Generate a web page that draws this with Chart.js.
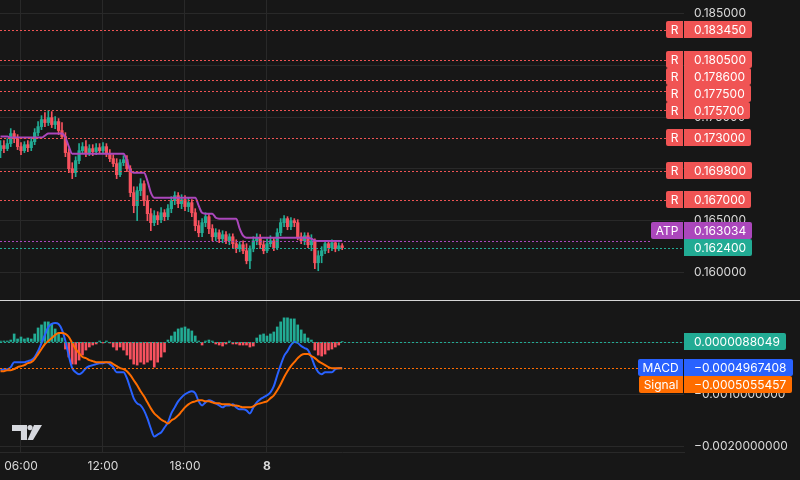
<!DOCTYPE html>
<html>
<head>
<meta charset="utf-8">
<script src="https://cdn.jsdelivr.net/npm/chart.js@4.4.1/dist/chart.umd.min.js"></script>
<style>
  html, body { margin: 0; padding: 0; background: #171717; }
  #wrap { position: relative; width: 800px; height: 480px; overflow: hidden; background: #171717; }
  #priceChart { position: absolute; left: 0; top: 0; }
  #sep { position: absolute; left: 0; top: 300px; width: 800px; height: 1px; background: #d6d6d6; }
  #macdChart { position: absolute; left: 0; top: 301px; }
</style>
</head>
<body>
<div id="wrap">
  <canvas id="priceChart" width="800" height="300"></canvas>
  <div id="sep"></div>
  <canvas id="macdChart" width="800" height="179"></canvas>
</div>
<script>
// 15 minute bars, first bar 04:30, last bar 05:30 next day
const opens = [
  0.17176,0.17225,0.17196,0.17244,0.17341,0.17292,0.17215,0.17176,0.17234,0.17205,
  0.17263,0.17350,0.17408,0.17476,0.17447,0.17495,0.17428,0.17457,0.17370,0.17312,
  0.17157,0.17002,0.16964,0.17080,0.17176,0.17215,0.17157,0.17196,0.17167,0.17205,
  0.17176,0.17215,0.17147,0.17099,0.17051,0.16944,0.17060,0.17089,0.17002,0.16771,
  0.16645,0.16790,0.16857,0.16693,0.16568,0.16481,0.16549,0.16510,0.16577,0.16539,
  0.16616,0.16693,0.16742,0.16664,0.16703,0.16636,0.16674,0.16577,0.16452,0.16384,
  0.16481,0.16539,0.16423,0.16345,0.16384,0.16326,0.16365,0.16306,0.16345,0.16278,
  0.16229,0.16268,0.16210,0.16113,0.16229,0.16306,0.16336,0.16268,0.16210,0.16278,
  0.16306,0.16239,0.16384,0.16481,0.16520,0.16442,0.16500,0.16481,0.16345,0.16306,
  0.16355,0.16268,0.16306,0.16094,0.16162,0.16210,0.16278,0.16239,0.16287,0.16229,
  0.16258
];
const highs = [
  0.17273,0.17273,0.17292,0.17389,0.17370,0.17331,0.17254,0.17263,0.17273,0.17302,
  0.17389,0.17457,0.17514,0.17543,0.17563,0.17553,0.17505,0.17486,0.17447,0.17350,
  0.17196,0.17060,0.17118,0.17244,0.17254,0.17273,0.17234,0.17234,0.17244,0.17244,
  0.17254,0.17244,0.17186,0.17138,0.17099,0.17089,0.17128,0.17128,0.17031,0.16828,
  0.16828,0.16906,0.16886,0.16742,0.16616,0.16597,0.16587,0.16626,0.16607,0.16655,
  0.16732,0.16780,0.16771,0.16751,0.16742,0.16722,0.16703,0.16616,0.16500,0.16520,
  0.16577,0.16568,0.16462,0.16423,0.16413,0.16403,0.16394,0.16374,0.16374,0.16316,
  0.16297,0.16306,0.16278,0.16258,0.16345,0.16374,0.16365,0.16306,0.16326,0.16355,
  0.16336,0.16423,0.16520,0.16549,0.16539,0.16529,0.16520,0.16510,0.16384,0.16384,
  0.16384,0.16365,0.16326,0.16210,0.16249,0.16306,0.16306,0.16316,0.16306,0.16287,
  0.16278
];
const lows = [
  0.17109,0.17157,0.17176,0.17215,0.17254,0.17186,0.17138,0.17157,0.17167,0.17176,
  0.17234,0.17321,0.17379,0.17408,0.17418,0.17399,0.17389,0.17331,0.17292,0.17118,
  0.16964,0.16906,0.16925,0.17051,0.17147,0.17118,0.17128,0.17128,0.17138,0.17147,
  0.17147,0.17118,0.17070,0.17022,0.16906,0.16925,0.17031,0.16973,0.16732,0.16577,
  0.16500,0.16742,0.16645,0.16500,0.16403,0.16452,0.16462,0.16481,0.16500,0.16510,
  0.16577,0.16655,0.16626,0.16616,0.16597,0.16587,0.16539,0.16403,0.16345,0.16345,
  0.16442,0.16374,0.16306,0.16306,0.16287,0.16287,0.16278,0.16268,0.16239,0.16191,
  0.16200,0.16181,0.16084,0.16036,0.16200,0.16268,0.16229,0.16181,0.16191,0.16249,
  0.16210,0.16220,0.16355,0.16442,0.16413,0.16413,0.16442,0.16316,0.16278,0.16268,
  0.16239,0.16210,0.16036,0.16017,0.16094,0.16181,0.16191,0.16210,0.16200,0.16210,
  0.16220
];
const closes = [
  0.17225,0.17196,0.17244,0.17341,0.17292,0.17215,0.17176,0.17234,0.17205,0.17263,
  0.17350,0.17408,0.17476,0.17447,0.17495,0.17428,0.17457,0.17370,0.17312,0.17157,
  0.17002,0.16964,0.17080,0.17176,0.17215,0.17157,0.17196,0.17167,0.17205,0.17176,
  0.17215,0.17147,0.17099,0.17051,0.16944,0.17060,0.17089,0.17002,0.16771,0.16645,
  0.16790,0.16857,0.16693,0.16568,0.16481,0.16549,0.16510,0.16577,0.16539,0.16616,
  0.16693,0.16742,0.16664,0.16703,0.16636,0.16674,0.16577,0.16452,0.16384,0.16481,
  0.16539,0.16423,0.16345,0.16384,0.16326,0.16365,0.16306,0.16345,0.16278,0.16229,
  0.16268,0.16210,0.16113,0.16229,0.16306,0.16336,0.16268,0.16210,0.16278,0.16306,
  0.16239,0.16384,0.16481,0.16520,0.16442,0.16500,0.16481,0.16345,0.16306,0.16355,
  0.16268,0.16306,0.16094,0.16162,0.16210,0.16278,0.16239,0.16287,0.16229,0.16258,
  0.16240
];
const atp = [
  0.17312,0.17312,0.17312,0.17302,0.17302,0.17302,0.17302,0.17302,0.17302,0.17302,
  0.17302,0.17302,0.17302,0.17321,0.17341,0.17341,0.17341,0.17341,0.17341,0.17302,
  0.17215,0.17147,0.17147,0.17147,0.17147,0.17147,0.17147,0.17147,0.17147,0.17147,
  0.17147,0.17147,0.17147,0.17147,0.17147,0.17147,0.17147,0.17080,0.16983,0.16964,
  0.16964,0.16964,0.16964,0.16886,0.16771,0.16722,0.16722,0.16722,0.16722,0.16722,
  0.16722,0.16722,0.16722,0.16722,0.16722,0.16722,0.16722,0.16722,0.16645,0.16577,
  0.16568,0.16568,0.16568,0.16529,0.16520,0.16520,0.16520,0.16520,0.16520,0.16520,
  0.16423,0.16355,0.16336,0.16336,0.16336,0.16336,0.16336,0.16336,0.16336,0.16336,
  0.16336,0.16336,0.16336,0.16336,0.16336,0.16336,0.16336,0.16336,0.16336,0.16336,
  0.16336,0.16326,0.16310,0.163034,0.163034,0.163034,0.163034,0.163034,0.163034,0.163034,
  0.163034
];
const macd = [
  -0.000538,-0.000519,-0.000519,-0.000481,-0.000385,-0.000385,-0.000385,-0.000385,-0.000365,-0.000346,
  -0.000288,-0.000173,-0.000019,0.000135,0.000288,0.000346,0.000365,0.000346,0.000231,0.000019,
  -0.000269,-0.0005,-0.000577,-0.000615,-0.000577,-0.0005,-0.000462,-0.000442,-0.000423,-0.000404,
  -0.000404,-0.000385,-0.000423,-0.000481,-0.000577,-0.000577,-0.000577,-0.000692,-0.000885,-0.001077,
  -0.001173,-0.001212,-0.001308,-0.001462,-0.001654,-0.001808,-0.001769,-0.001731,-0.001635,-0.001538,
  -0.001365,-0.00125,-0.001135,-0.001058,-0.001,-0.000962,-0.000942,-0.000981,-0.001135,-0.001212,
  -0.001154,-0.001115,-0.001135,-0.001173,-0.001212,-0.00125,-0.001212,-0.001212,-0.001192,-0.00125,
  -0.001288,-0.001288,-0.001308,-0.001365,-0.00125,-0.001154,-0.001096,-0.001058,-0.001019,-0.000962,
  -0.000846,-0.000635,-0.000442,-0.000269,-0.000173,-0.000058,0,-0.000019,-0.000077,-0.000115,
  -0.000154,-0.000288,-0.000462,-0.000577,-0.000615,-0.000577,-0.000577,-0.000577,-0.000519,-0.0005,
  -0.0004967408
];
const signal = [
  -0.000558,-0.000558,-0.000538,-0.000538,-0.000519,-0.000481,-0.000462,-0.000442,-0.000404,-0.000385,
  -0.000327,-0.000231,-0.000135,-0.000038,0.000019,0.000077,0.000135,0.000173,0.000173,0.000154,
  0.000096,-0.000019,-0.000135,-0.000212,-0.000288,-0.000308,-0.000346,-0.000365,-0.000385,-0.000385,
  -0.000385,-0.000385,-0.000385,-0.000423,-0.000462,-0.0005,-0.000519,-0.000558,-0.000635,-0.000731,
  -0.000827,-0.000942,-0.001038,-0.001154,-0.001269,-0.001365,-0.001423,-0.001481,-0.001519,-0.001558,
  -0.0015,-0.001462,-0.001404,-0.001327,-0.00125,-0.001192,-0.001154,-0.001135,-0.001115,-0.001115,
  -0.001135,-0.001135,-0.001154,-0.001173,-0.001173,-0.001192,-0.001192,-0.001192,-0.001212,-0.001212,
  -0.001231,-0.00125,-0.00125,-0.00125,-0.001231,-0.001192,-0.001173,-0.001154,-0.001135,-0.001077,
  -0.001019,-0.000923,-0.000808,-0.000673,-0.000558,-0.000462,-0.000385,-0.000308,-0.00025,-0.000231,
  -0.000231,-0.000269,-0.000308,-0.000365,-0.000404,-0.000442,-0.000481,-0.0005,-0.0005,-0.0005,
  -0.0005055457
];
const hist = [
  0.000019,0.000019,0.000019,0.000038,0.000154,0.000058,0.000096,0.000058,0.000077,0.000058,
  0.000154,0.000269,0.000327,0.000385,0.000385,0.000346,0.00025,0.000173,0.000077,-0.000135,
  -0.000288,-0.000423,-0.000423,-0.000346,-0.00025,-0.000154,-0.000096,-0.000058,-0.000038,0.000019,
  -0.000019,0.000019,-0.000019,-0.000096,-0.000154,-0.000096,-0.000154,-0.00025,-0.000327,-0.000423,
  -0.000442,-0.000385,-0.000423,-0.000385,-0.000346,-0.000481,-0.000385,-0.000288,-0.000192,0.000038,
  0.000115,0.000192,0.00025,0.000269,0.000288,0.00025,0.000212,0.000115,0.000019,-0.000058,
  0.000019,0.000038,0.000019,-0.000038,-0.000058,-0.000077,-0.000038,0.000019,-0.000038,-0.000038,
  -0.000058,-0.000058,-0.000058,-0.000096,-0.000077,0.000077,0.000135,0.000154,0.000115,0.000154,
  0.000192,0.000288,0.000385,0.000462,0.000462,0.000442,0.000442,0.000327,0.000231,0.000154,
  0.000077,0.000038,-0.000154,-0.00025,-0.000269,-0.000231,-0.000154,-0.000135,-0.000096,-0.000058,
  0.0000088049
];

const resistanceLevels = [0.18345, 0.1805, 0.1786, 0.1775, 0.1757, 0.173, 0.1698, 0.167];
const priceTicks = [0.16, 0.165, 0.17, 0.175, 0.18, 0.185];
const macdTicks = [0, -0.001, -0.002];
const timeTickIdx = [6, 30, 54, 78];
const timeTickLabels = ['06:00', '12:00', '18:00', '8'];

const FONT_FAMILY = 'Inter, "Noto Sans", "DejaVu Sans", sans-serif';
const TEXT = '#d9d9d9';
const GRID = '#292929';
const UP = '#22ab94';
const DOWN = '#f7525f';
const RES = '#f05454';
const ATP_COLOR = '#ab47bc';
const MACD_COLOR = '#2962ff';
const SIGNAL_COLOR = '#ff6d00';
const LABEL_H = 17;

const xMin = -0.146, xMax = 200.05;

function fitRightAxis(scale) {
    scale.width = 116;
    scale.paddingTop = 0;
    scale.paddingBottom = 0;
}
function fitTimeAxis(h) {
    return function (scale) {
        scale.height = h;
        scale.paddingLeft = 0;
        scale.paddingRight = 0;
    };
}

function xAxis(showLabels) {
    return {
        type: 'linear', min: xMin, max: xMax, bounds: 'data', offset: false,
        afterBuildTicks: s => { s.ticks = timeTickIdx.map(v => ({ value: v })); },
        afterFit: fitTimeAxis(showLabels ? 28 : 0),
        grid: { color: GRID, offset: false, drawTicks: false },
        border: { display: showLabels, color: GRID },
        ticks: {
            display: showLabels, autoSkip: false, maxRotation: 0, padding: 7, color: TEXT,
            font: ctx => ({ family: FONT_FAMILY, size: 12, weight: ctx.tick && ctx.tick.value === 78 ? 'bold' : 'normal' }),
            callback: v => timeTickLabels[timeTickIdx.indexOf(v)] || ''
        }
    };
}

// spread overlapping axis labels apart; pinned labels stay on their line
function placeLabels(items, h) {
    items.sort((a, b) => a.y - b.y);
    const clusters = items.map(it => [it]);
    const place = c => {
        const p = c.findIndex(it => it.pin);
        const base = p >= 0 ? c[p].y - p * h
            : c.reduce((s, it) => s + it.y, 0) / c.length - (c.length - 1) * h / 2;
        c.forEach((it, i) => { it.ly = base + i * h; });
    };
    clusters.forEach(place);
    let merged = true;
    while (merged) {
        merged = false;
        for (let i = 0; i < clusters.length - 1; i++) {
            const a = clusters[i], b = clusters[i + 1];
            if (b[0].ly - a[a.length - 1].ly < h) {
                clusters.splice(i, 2, a.concat(b));
                place(clusters[i]);
                merged = true;
                break;
            }
        }
    }
    return items;
}

function box(ctx, x, y, w, h, r) {
    ctx.beginPath();
    if (ctx.roundRect) ctx.roundRect(x, y, w, h, r); else ctx.rect(x, y, w, h);
    ctx.fill();
}

function tagWidth(ctx, it) {
    return it.tag ? Math.round(ctx.measureText(it.tag).width + 10) : 0;
}

function drawPriceLines(chart, items) {
    const ctx = chart.ctx, area = chart.chartArea;
    ctx.save();
    ctx.font = '12px ' + FONT_FAMILY;
    ctx.lineWidth = 1;
    ctx.setLineDash([2, 2]);
    items.forEach(it => {
        const y = Math.round(it.y) + 0.5;
        ctx.strokeStyle = it.lineColor || it.color;
        ctx.beginPath();
        ctx.moveTo(area.left, y);
        ctx.lineTo(area.right - tagWidth(ctx, it), y);
        ctx.stroke();
    });
    ctx.setLineDash([]);
    placeLabels(items, LABEL_H);
    ctx.textBaseline = 'middle';
    items.forEach(it => {
        const x0 = area.right;
        const top = Math.round(it.ly - LABEL_H / 2);
        const vw = Math.round(ctx.measureText(it.text).width + 16);
        ctx.fillStyle = it.color;
        box(ctx, x0, top, vw, LABEL_H, [0, 2, 2, 0]);
        if (it.tag) {
            const tw = tagWidth(ctx, it);
            box(ctx, x0 - tw, top, tw - 1, LABEL_H, [2, 0, 0, 2]);
            ctx.fillStyle = '#ffffff';
            ctx.textAlign = 'center';
            ctx.fillText(it.tag, x0 - tw / 2 - 0.5, top + LABEL_H / 2 + 0.5);
        }
        ctx.fillStyle = '#ffffff';
        ctx.textAlign = 'left';
        ctx.fillText(it.text, x0 + 10, top + LABEL_H / 2 + 0.5);
    });
    ctx.restore();
}

const idx = opens.map((_, i) => i);
const candleColors = closes.map((c, i) => c >= opens[i] ? UP : DOWN);
const histColors = hist.map(v => v >= 0 ? UP : DOWN);

const priceLabelsPlugin = {
    id: 'priceLabels',
    afterDraw(chart) {
        const ys = chart.scales.y;
        const lastClose = closes[closes.length - 1];
        const atpLast = atp[atp.length - 1];
        const items = resistanceLevels.map(v => ({ y: ys.getPixelForValue(v), tag: 'R', text: v.toFixed(6), color: RES }));
        items.push({ y: ys.getPixelForValue(atpLast), tag: 'ATP', text: atpLast.toFixed(6), color: ATP_COLOR });
        items.push({ y: ys.getPixelForValue(lastClose), tag: '', text: lastClose.toFixed(6),
            color: candleColors[candleColors.length - 1] === UP ? UP : UP, pin: true });
        drawPriceLines(chart, items);
    }
};

function fmtMacd(v) {
    return (v < 0 ? '\u2212' : '') + Math.abs(v).toFixed(10);
}

const macdLabelsPlugin = {
    id: 'macdLabels',
    afterDraw(chart) {
        const ys = chart.scales.y;
        const h = hist[hist.length - 1], m = macd[macd.length - 1], s = signal[signal.length - 1];
        const items = [
            { y: ys.getPixelForValue(h), tag: '', text: fmtMacd(h), color: h >= 0 ? UP : DOWN },
            { y: ys.getPixelForValue(m), tag: 'MACD', text: fmtMacd(m), color: MACD_COLOR, pin: true },
            { y: ys.getPixelForValue(s), tag: 'Signal', text: fmtMacd(s), color: SIGNAL_COLOR }
        ];
        drawPriceLines(chart, items);

        // TradingView logo
        const ctx = chart.ctx;
        ctx.save();
        ctx.fillStyle = '#d6d8de';
        ctx.fillRect(12, 124, 15, 6);
        ctx.fillRect(21, 124, 6, 15);
        ctx.beginPath();
        ctx.arc(30, 126.6, 2.6, 0, Math.PI * 2);
        ctx.fill();
        ctx.beginPath();
        ctx.moveTo(34, 124);
        ctx.lineTo(42, 124);
        ctx.lineTo(33, 139);
        ctx.lineTo(27.5, 139);
        ctx.closePath();
        ctx.fill();
        ctx.restore();
    }
};

new Chart(document.getElementById('priceChart'), {
    type: 'bar',
    data: {
        datasets: [
            {
                type: 'line', label: 'ATP', order: 0,
                data: idx.map(i => ({ x: i, y: atp[i] })),
                borderColor: ATP_COLOR, borderWidth: 2, pointRadius: 0,
                cubicInterpolationMode: 'monotone'
            },
            {
                label: 'body', order: 1, grouped: false,
                data: idx.map(i => ({ x: i, y: [opens[i], closes[i]] })),
                backgroundColor: candleColors, barThickness: 2.6, minBarLength: 1, borderWidth: 0
            },
            {
                label: 'wick', order: 2, grouped: false,
                data: idx.map(i => ({ x: i, y: [lows[i], highs[i]] })),
                backgroundColor: candleColors, barThickness: 1, borderWidth: 0
            }
        ]
    },
    options: {
        responsive: false, animation: false, events: [],
        layout: { padding: 0 },
        plugins: { legend: { display: false }, tooltip: { enabled: false } },
        scales: {
            x: xAxis(false),
            y: {
                position: 'right', min: 0.157346, max: 0.186303, bounds: 'data',
                afterBuildTicks: s => { s.ticks = priceTicks.map(v => ({ value: v })); },
                afterFit: fitRightAxis,
                grid: { color: GRID, drawTicks: false },
                border: { display: false },
                ticks: { padding: 10, autoSkip: false, color: TEXT, font: { family: FONT_FAMILY, size: 12 },
                    callback: v => v.toFixed(6) }
            }
        }
    },
    plugins: [priceLabelsPlugin]
});

new Chart(document.getElementById('macdChart'), {
    type: 'bar',
    data: {
        datasets: [
            {
                type: 'line', label: 'Signal', order: 0,
                data: idx.map(i => ({ x: i, y: signal[i] })),
                borderColor: SIGNAL_COLOR, borderWidth: 2, pointRadius: 0, cubicInterpolationMode: 'monotone'
            },
            {
                type: 'line', label: 'MACD', order: 1,
                data: idx.map(i => ({ x: i, y: macd[i] })),
                borderColor: MACD_COLOR, borderWidth: 2, pointRadius: 0, cubicInterpolationMode: 'monotone'
            },
            {
                label: 'Histogram', order: 2, grouped: false,
                data: idx.map(i => ({ x: i, y: hist[i] })),
                backgroundColor: histColors, barThickness: 2, borderWidth: 0
            }
        ]
    },
    options: {
        responsive: false, animation: false, events: [],
        layout: { padding: 0 },
        plugins: { legend: { display: false }, tooltip: { enabled: false } },
        scales: {
            x: xAxis(true),
            y: {
                position: 'right', min: -0.0021033, max: 0.000784, bounds: 'data',
                afterBuildTicks: s => { s.ticks = macdTicks.map(v => ({ value: v })); },
                afterFit: fitRightAxis,
                grid: { color: GRID, drawTicks: false },
                border: { display: false },
                ticks: { padding: 10, autoSkip: false, color: TEXT, font: { family: FONT_FAMILY, size: 12 },
                    callback: v => fmtMacd(v) }
            }
        }
    },
    plugins: [macdLabelsPlugin]
});
</script>
</body>
</html>
